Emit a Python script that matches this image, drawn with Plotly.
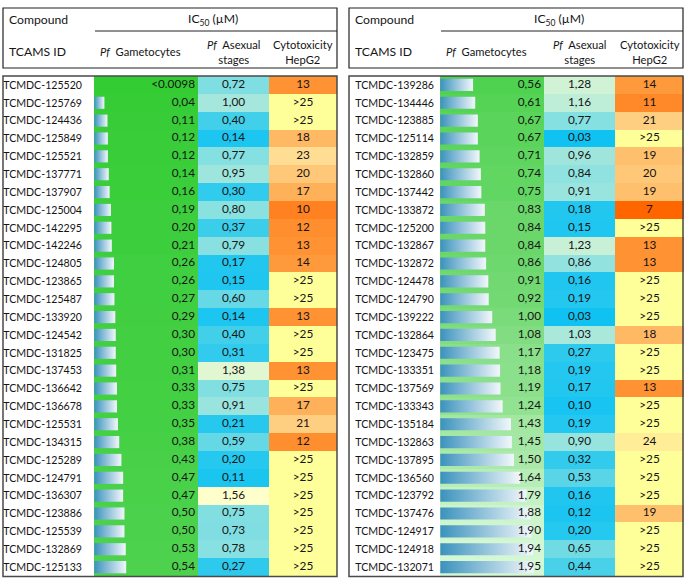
import plotly.graph_objects as go

# ---------------- data ----------------
left_ids = ["TCMDC-125520", "TCMDC-125769", "TCMDC-124436", "TCMDC-125849", "TCMDC-125521",
            "TCMDC-137771", "TCMDC-137907", "TCMDC-125004", "TCMDC-142295", "TCMDC-142246",
            "TCMDC-124805", "TCMDC-123865", "TCMDC-125487", "TCMDC-133920", "TCMDC-124542",
            "TCMDC-131825", "TCMDC-137453", "TCMDC-136642", "TCMDC-136678", "TCMDC-125531",
            "TCMDC-134315", "TCMDC-125289", "TCMDC-124791", "TCMDC-136307", "TCMDC-123886",
            "TCMDC-125539", "TCMDC-132869", "TCMDC-125133"]
left_gam = ["<0.0098", "0,04", "0,11", "0,12", "0,12", "0,14", "0,16", "0,19", "0,20", "0,21",
            "0,26", "0,26", "0,27", "0,29", "0,30", "0,30", "0,31", "0,33", "0,33", "0,35",
            "0,38", "0,43", "0,47", "0,47", "0,50", "0,50", "0,53", "0,54"]
left_asex = [0.72, 1.00, 0.40, 0.14, 0.77, 0.95, 0.30, 0.80, 0.37, 0.79, 0.17, 0.15, 0.60, 0.14,
             0.40, 0.31, 1.38, 0.75, 0.91, 0.21, 0.59, 0.20, 0.11, 1.56, 0.75, 0.73, 0.78, 0.27]
left_cyto = ["13", ">25", ">25", "18", "23", "20", "17", "10", "12", "13", "14", ">25", ">25", "13",
             ">25", ">25", "13", ">25", "17", "21", "12", ">25", ">25", ">25", ">25", ">25", ">25", ">25"]

right_ids = ["TCMDC-139286", "TCMDC-134446", "TCMDC-123885", "TCMDC-125114", "TCMDC-132859",
             "TCMDC-132860", "TCMDC-137442", "TCMDC-133872", "TCMDC-125200", "TCMDC-132867",
             "TCMDC-132872", "TCMDC-124478", "TCMDC-124790", "TCMDC-139222", "TCMDC-132864",
             "TCMDC-123475", "TCMDC-133351", "TCMDC-137569", "TCMDC-133343", "TCMDC-135184",
             "TCMDC-132863", "TCMDC-137895", "TCMDC-136560", "TCMDC-123792", "TCMDC-137476",
             "TCMDC-124917", "TCMDC-124918", "TCMDC-132071"]
right_gam = ["0,56", "0,61", "0,67", "0,67", "0,71", "0,74", "0,75", "0,83", "0,84", "0,84",
             "0,86", "0,91", "0,92", "1,00", "1,08", "1,17", "1,18", "1,19", "1,24", "1,43",
             "1,45", "1,50", "1,64", "1,79", "1,88", "1,90", "1,94", "1,95"]
right_asex = [1.28, 1.16, 0.77, 0.03, 0.96, 0.84, 0.91, 0.18, 0.15, 1.23, 0.86, 0.16, 0.19, 0.03,
              1.03, 0.27, 0.19, 0.17, 0.10, 0.19, 0.90, 0.32, 0.53, 0.16, 0.12, 0.20, 0.65, 0.44]
right_cyto = ["14", "11", "21", ">25", "19", "20", "19", "7", ">25", "13", "13", ">25", ">25", ">25",
              "18", ">25", ">25", "13", ">25", ">25", "24", ">25", ">25", ">25", "19", ">25", ">25", ">25"]

header_titles = ["Compound", "IC<sub>50</sub> (µM)", "TCAMS ID", "<i>Pf</i>  Gametocytes",
                 "<i>Pf</i>  Asexual<br>stages", "Cytotoxicity<br>HepG2"]

# ---------------- helpers ----------------
def num(s):
    return float(s.lstrip("<>").replace(",", "."))

FIG_W, FIG_H = 690, 581
FONT = "Lato"
TXT = "#151515"

gam_scale = [[0, "#33CC33"], [0.28, "#4ED24E"], [0.5, "#78DA78"], [0.75, "#A6E8A6"], [1, "#D4F7D4"]]
asex_scale = [[0, "#10C2F2"], [0.2, "#35CCEC"], [0.45, "#7EDEE2"], [0.62, "#A2E6DC"],
              [0.8, "#CCF1D6"], [1, "#FFFFCC"]]
cyto_scale = [[0, "#FF6600"], [0.2, "#FF8626"], [0.35, "#FF9535"], [0.62, "#FFBA66"],
              [0.9, "#FFE096"], [1, "#FFFF99"]]
bar_scale = [[0, "#3B92BD"], [1, "#F2F7FB"]]

all_gam = [num(s) for s in left_gam + right_gam]
bar_vals = [num(s) for s in left_gam + right_gam if not s.startswith("<")]
bmin, bmax = min(bar_vals), max(bar_vals)
all_asex = left_asex + right_asex
all_cyto = [num(s) for s in left_cyto + right_cyto]

y_dom = [1 - 576 / FIG_H, 1 - 76 / FIG_H]

panels = [
    dict(ids=left_ids, gam=left_gam, asex=left_asex, cyto=left_cyto, box=(3, 337), col0=94,
         widths=(104, 71, 68), standoff=11, xa="x", ya="y", xn="xaxis", yn="yaxis"),
    dict(ids=right_ids, gam=right_gam, asex=right_asex, cyto=right_cyto, box=(349, 683), col0=440,
         widths=(104, 71, 69), standoff=5, xa="x2", ya="y2", xn="xaxis2", yn="yaxis2"),
]

fig = go.Figure()
layout_axes = {}
shapes = []
annotations = []

def px(x):
    return x / FIG_W

def py(y):
    return 1 - y / FIG_H

for p in panels:
    n = len(p["ids"])
    rows = list(range(n))
    w1, w2, w3 = p["widths"]
    tot = w1 + w2 + w3
    c1, c2, c3 = w1 / 2, w1 + w2 / 2, w1 + w2 + w3 / 2
    gnum = [num(s) for s in p["gam"]]
    cnum = [num(s) for s in p["cyto"]]

    fig.add_trace(go.Heatmap(z=[[v] for v in gnum], x0=c1, dx=w1, y0=0, dy=1,
                             colorscale=gam_scale, zmin=0, zmax=max(all_gam), showscale=False,
                             hoverinfo="skip", xaxis=p["xa"], yaxis=p["ya"]))
    fig.add_trace(go.Heatmap(z=[[v] for v in p["asex"]], x0=c2, dx=w2, y0=0, dy=1,
                             colorscale=asex_scale, zmin=min(all_asex), zmax=max(all_asex),
                             showscale=False, hoverinfo="skip", xaxis=p["xa"], yaxis=p["ya"]))
    fig.add_trace(go.Heatmap(z=[[v] for v in cnum], x0=c3, dx=w3, y0=0, dy=1,
                             colorscale=cyto_scale, zmin=min(all_cyto), zmax=25,
                             showscale=False, hoverinfo="skip", xaxis=p["xa"], yaxis=p["ya"]))

    # gradient data bars
    for i, s in enumerate(p["gam"]):
        if s.startswith("<"):
            continue
        v = num(s)
        L = w1 * (0.1 + 0.8 * (v - bmin) / (bmax - bmin))
        h = 0.34
        fig.add_trace(go.Scatter(x=[0.3, L, L, 0.3, 0.3], y=[i - h, i - h, i + h, i + h, i - h],
                                 mode="lines", fill="toself", line=dict(width=0),
                                 fillgradient=dict(type="horizontal", colorscale=bar_scale),
                                 hoverinfo="skip", showlegend=False,
                                 xaxis=p["xa"], yaxis=p["ya"]))

    tf = dict(family=FONT, size=11.8, color=TXT)
    fig.add_trace(go.Scatter(x=[w1 - 3] * n, y=rows, text=p["gam"], mode="text",
                             textposition="middle left", textfont=tf, hoverinfo="skip",
                             showlegend=False, xaxis=p["xa"], yaxis=p["ya"]))
    fig.add_trace(go.Scatter(x=[c2] * n, y=rows, text=[f"{v:.2f}".replace(".", ",") for v in p["asex"]],
                             mode="text", textposition="middle center", textfont=tf, hoverinfo="skip",
                             showlegend=False, xaxis=p["xa"], yaxis=p["ya"]))
    fig.add_trace(go.Scatter(x=[c3] * n, y=rows, text=p["cyto"], mode="text",
                             textposition="middle center", textfont=tf, hoverinfo="skip",
                             showlegend=False, xaxis=p["xa"], yaxis=p["ya"]))

    layout_axes[p["xn"]] = dict(domain=[p["col0"] / FIG_W, (p["col0"] + tot) / FIG_W],
                                range=[0, tot], visible=False, fixedrange=True,
                                anchor=p["ya"])
    layout_axes[p["yn"]] = dict(domain=y_dom, range=[n - 0.5, -0.5], anchor=p["xa"],
                                tickvals=rows, ticktext=p["ids"], ticks="", showgrid=False,
                                zeroline=False, showline=False, ticklabelstandoff=p["standoff"],
                                tickfont=dict(family=FONT, size=10.6, color=TXT), fixedrange=True)

    # boxes (paper coords)
    bx0, bx1 = p["box"]
    shapes.append(dict(type="rect", xref="paper", yref="paper", x0=px(bx0), x1=px(bx1),
                       y0=py(68), y1=py(8), line=dict(color="#222", width=1.2)))
    shapes.append(dict(type="line", xref="paper", yref="paper", x0=px(p["col0"] + 1), x1=px(bx1),
                       y0=py(31), y1=py(31), line=dict(color="#222", width=1)))
    shapes.append(dict(type="rect", xref="paper", yref="paper", x0=px(bx0), x1=px(bx1),
                       y0=py(576.5), y1=py(76), line=dict(color="#4a4a4a", width=1.5)))

    hf = dict(family=FONT, size=12.2, color=TXT)
    sf = dict(family=FONT, size=11.2, color=TXT)
    annotations += [
        dict(text=header_titles[0], x=px(bx0 + 4), y=py(19), xanchor="left", yanchor="middle",
             xref="paper", yref="paper", showarrow=False, font=hf),
        dict(text=header_titles[1], x=px(p["col0"] + tot / 2 - 3), y=py(19), xanchor="center",
             yanchor="middle", xref="paper", yref="paper", showarrow=False, font=hf),
        dict(text=header_titles[2], x=px(bx0 + 4), y=py(51.5), xanchor="left", yanchor="middle",
             xref="paper", yref="paper", showarrow=False, font=hf),
        dict(text=header_titles[3], x=px(p["col0"] + c1 - 6), y=py(51.5), xanchor="center",
             yanchor="middle", xref="paper", yref="paper", showarrow=False, font=sf),
        dict(text=header_titles[4], x=px(p["col0"] + c2), y=py(51.5), xanchor="center",
             yanchor="middle", xref="paper", yref="paper", showarrow=False, font=sf),
        dict(text=header_titles[5], x=px(p["col0"] + c3), y=py(51.5), xanchor="center",
             yanchor="middle", xref="paper", yref="paper", showarrow=False, font=sf),
    ]

fig.update_layout(width=FIG_W, height=FIG_H, margin=dict(l=0, r=0, t=0, b=0),
                  paper_bgcolor="white", plot_bgcolor="white", showlegend=False,
                  shapes=shapes, annotations=annotations, **layout_axes)

fig.write_html("out.html", config={"displayModeBar": False},
               post_script="document.body.style.margin='0px';")
